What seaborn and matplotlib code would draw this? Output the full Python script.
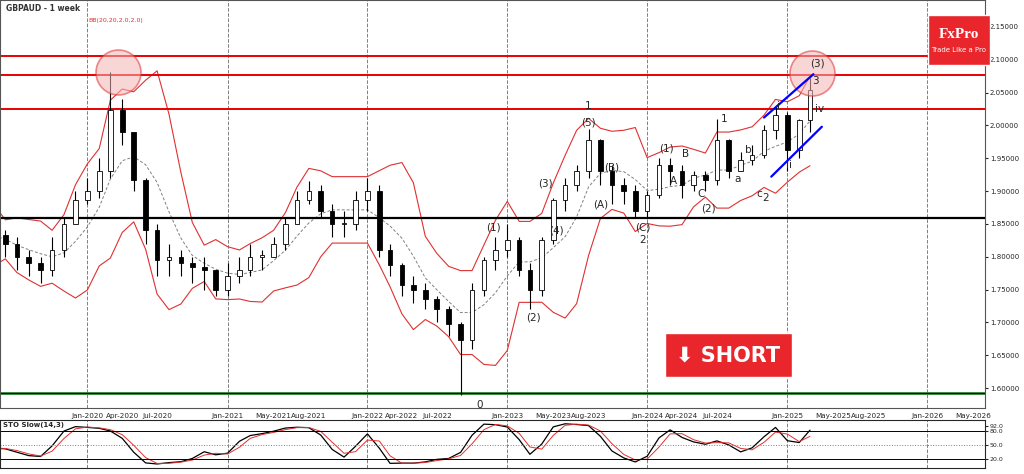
import matplotlib
matplotlib.use("Agg")
import matplotlib.pyplot as plt
import matplotlib.dates as mdates
from matplotlib.patches import Rectangle
import numpy as np
import pandas as pd
import seaborn as sns

sns.set_style("white")
plt.rcParams["font.family"] = ["DejaVu Sans"]

# monthly GBPAUD values (May 2019 .. Mar 2025)
months = pd.date_range("2019-05-01", "2025-03-01", freq="MS")
closes = [1.833, 1.82, 1.80, 1.79, 1.78, 1.81, 1.85, 1.887, 1.90, 1.93, 2.024, 1.99,
          1.917, 1.84, 1.795, 1.80, 1.79, 1.785, 1.78, 1.75, 1.77, 1.78, 1.80, 1.80,
          1.82, 1.85, 1.887, 1.90, 1.87, 1.85, 1.85, 1.887, 1.90, 1.81, 1.787, 1.757,
          1.75, 1.735, 1.72, 1.697, 1.673, 1.75, 1.795, 1.81, 1.826, 1.78, 1.75, 1.826,
          1.887, 1.91, 1.93, 1.978, 1.93, 1.91, 1.90, 1.87, 1.894, 1.94, 1.93, 1.91,
          1.925, 1.917, 1.978, 1.93, 1.947, 1.955, 1.993, 2.016, 1.963, 2.008, 2.054]
highs = [1.85, 1.84, 1.83, 1.81, 1.80, 1.83, 1.86, 1.90, 1.92, 1.95, 2.082, 2.04,
         1.99, 1.92, 1.85, 1.82, 1.81, 1.80, 1.80, 1.78, 1.79, 1.80, 1.82, 1.81,
         1.83, 1.86, 1.90, 1.915, 1.91, 1.88, 1.87, 1.90, 1.92, 1.91, 1.82, 1.79,
         1.77, 1.76, 1.74, 1.725, 1.70, 1.76, 1.80, 1.83, 1.85, 1.83, 1.79, 1.83,
         1.89, 1.92, 1.94, 1.995, 1.98, 1.94, 1.92, 1.91, 1.90, 1.95, 1.95, 1.94,
         1.93, 1.93, 2.01, 1.98, 1.96, 1.97, 2.00, 2.03, 2.02, 2.01, 2.072]
lows = [1.82, 1.80, 1.78, 1.77, 1.76, 1.77, 1.80, 1.85, 1.88, 1.89, 1.92, 1.97,
        1.90, 1.82, 1.77, 1.77, 1.77, 1.76, 1.75, 1.74, 1.74, 1.76, 1.77, 1.78,
        1.80, 1.81, 1.85, 1.88, 1.86, 1.83, 1.83, 1.84, 1.87, 1.80, 1.77, 1.74,
        1.73, 1.72, 1.70, 1.68, 1.59, 1.66, 1.74, 1.78, 1.80, 1.77, 1.72, 1.74,
        1.82, 1.87, 1.90, 1.92, 1.91, 1.88, 1.88, 1.86, 1.86, 1.89, 1.91, 1.89,
        1.90, 1.90, 1.91, 1.92, 1.93, 1.94, 1.95, 1.98, 1.93, 1.95, 1.99]

red_levels = [2.105, 2.077, 2.025]
support_level = 1.859
bottom_level = 1.592
price_ticks = [1.60, 1.65, 1.70, 1.75, 1.80, 1.85, 1.90, 1.95, 2.00, 2.05, 2.10, 2.15]
date_ticks = ["2020-01", "2020-04", "2020-07", "2021-01", "2021-05", "2021-08",
              "2022-01", "2022-04", "2022-07", "2023-01", "2023-05", "2023-08",
              "2024-01", "2024-04", "2024-07", "2025-01", "2025-05", "2025-08",
              "2026-01", "2026-05"]

df = pd.DataFrame({"date": months, "close": closes, "high": highs, "low": lows})
df["open"] = df["close"].shift(1).fillna(df["close"].iloc[0])
df["mid"] = df["close"].rolling(5, min_periods=1).mean()
sd = df["close"].rolling(5, min_periods=1).std().fillna(0.02)
df["up"] = df["mid"] + 1.6 * sd + 0.015
df["dn"] = df["mid"] - 1.6 * sd - 0.015
hh = df["high"].rolling(4, min_periods=1).max()
ll = df["low"].rolling(4, min_periods=1).min()
df["k"] = (100 * (df["close"] - ll) / (hh - ll)).rolling(2, min_periods=1).mean()
df["d"] = df["k"].rolling(2, min_periods=1).mean()
df["x"] = mdates.date2num(df["date"])

fig = plt.figure(figsize=(10.24, 4.74), dpi=100)
ax = fig.add_axes([0.0, 0.139, 0.962, 0.861])
ax2 = fig.add_axes([0.0, 0.013, 0.962, 0.101])

x0 = mdates.date2num(pd.Timestamp("2019-05-18"))
x1 = mdates.date2num(pd.Timestamp("2026-06-01"))

# candles
w = 12
for _, r in df.iterrows():
    ax.vlines(r["x"], r["low"], r["high"], color="black", lw=0.8, zorder=3)
    lo, hi = sorted([r["open"], r["close"]])
    col = "white" if r["close"] >= r["open"] else "black"
    ax.add_patch(Rectangle((r["x"] - w / 2, lo), w, max(hi - lo, 0.002),
                           facecolor=col, edgecolor="black", lw=0.6, zorder=4))

sns.lineplot(data=df, x="x", y="up", ax=ax, color="#e03030", lw=0.8)
sns.lineplot(data=df, x="x", y="dn", ax=ax, color="#e03030", lw=0.8)
sns.lineplot(data=df, x="x", y="mid", ax=ax, color="gray", lw=0.7, linestyle=(0, (3, 2)))

for lv in red_levels:
    ax.axhline(lv, color="#e80000", lw=1.4, zorder=2)
ax.axhline(support_level, color="black", lw=1.6)
ax.axhline(bottom_level, color="#2e7d32", lw=2)
ax.axhline(bottom_level, color="black", lw=0.6)

yrs = [mdates.date2num(pd.Timestamp(f"{y}-01-01")) for y in range(2020, 2027)]
for xv in yrs:
    ax.axvline(xv, color="gray", lw=0.7, ls="--", zorder=1)
    ax2.axvline(xv, color="gray", lw=0.7, ls="--", zorder=1)

ax.set_xlim(x0, x1)
ax.set_ylim(1.5695, 2.191)
ax.yaxis.tick_right()
ax.set_yticks(price_ticks)
ax.set_yticklabels([f"{t:.5f}" for t in price_ticks], fontsize=5)
ax.set_xticks([mdates.date2num(pd.Timestamp(d)) for d in date_ticks])
ax.set_xticklabels([pd.Timestamp(d).strftime("%b-%Y") for d in date_ticks], fontsize=5.2)
ax.tick_params(length=2, pad=1.5)
ax.set_xlabel("")
ax.set_ylabel("")
for s in ax.spines.values():
    s.set_color("#555555")

d = lambda s: mdates.date2num(pd.Timestamp(s))

# circles at highs
ax.scatter([d("2020-03-20"), d("2025-03-05")], [2.082, 2.08], s=1050, facecolor="#f5b5b5",
           alpha=0.55, edgecolor="#e03030", linewidth=1.2, zorder=5)

# blue channel
ax.plot([d("2024-11-01"), d("2025-03-10")], [2.012, 2.078], color="blue", lw=1.6, zorder=6)
ax.plot([d("2024-11-20"), d("2025-04-01")], [1.922, 1.998], color="blue", lw=1.6, zorder=6)

labels = [("(3)", "2025-03-20", 2.095), ("3", "2025-03-15", 2.068), ("i", "2024-12-10", 2.03),
          ("iv", "2025-03-25", 2.025), ("(5)", "2023-08-01", 2.005), ("1", "2023-08-01", 2.03),
          ("(B)", "2023-10-01", 1.936), ("(A)", "2023-09-01", 1.88), ("(C)", "2023-12-20", 1.845),
          ("2", "2023-12-20", 1.825), ("(1)", "2024-02-20", 1.965), ("B", "2024-04-10", 1.957),
          ("A", "2024-03-10", 1.915), ("C", "2024-05-20", 1.895), ("(2)", "2024-06-10", 1.873),
          ("1", "2024-07-20", 2.01), ("b", "2024-09-20", 1.963), ("a", "2024-08-25", 1.918),
          ("c", "2024-10-20", 1.895), ("2", "2024-11-05", 1.89), ("ii", "2025-01-05", 1.94),
          ("(3)", "2023-04-10", 1.912), ("(4)", "2023-05-10", 1.84), ("(1)", "2022-11-25", 1.845),
          ("(2)", "2023-03-10", 1.707), ("0", "2022-10-20", 1.575)]
for txt, dt, y in labels:
    ax.text(d(dt), y, txt, fontsize=7.5, ha="center", va="center", zorder=7)

ax.text(0.006, 0.99, "GBPAUD - 1 week", transform=ax.transAxes, fontsize=5.5, fontweight="bold",
        va="top", color="#333333")
ax.text(0.09, 0.955, "BB(20,20,2.0,2.0)", transform=ax.transAxes, fontsize=4.5, va="top", color="#e03030")

# SHORT box
fig.patches.append(Rectangle((665 / 1024, 1 - 377 / 474), 127 / 1024, 44 / 474,
                             transform=fig.transFigure, facecolor="#e8262b", zorder=10))
fig.text(728 / 1024, 1 - 355 / 474, "\u2b07 SHORT", color="white", fontsize=15,
         fontweight="bold", ha="center", va="center", zorder=11, family=["DejaVu Sans"])
# logo box
fig.patches.append(Rectangle((928 / 1024, 1 - 65 / 474), 62 / 1024, 50 / 474,
                             transform=fig.transFigure, facecolor="#e8262b", zorder=10))
fig.text(959 / 1024, 1 - 34 / 474, "FxPro", color="white", fontsize=11, fontweight="bold",
         ha="center", va="center", zorder=11, family="Liberation Serif")
fig.text(959 / 1024, 1 - 50 / 474, "Trade Like a Pro", color="white", fontsize=5,
         ha="center", va="center", zorder=11)

# stochastic panel
sns.lineplot(data=df, x="x", y="k", ax=ax2, color="black", lw=0.9)
sns.lineplot(data=df, x="x", y="d", ax=ax2, color="#e03030", lw=0.7)
for lv in (80, 20):
    ax2.axhline(lv, color="black", lw=0.7)
ax2.axhline(50, color="gray", lw=0.7, ls=":")
ax2.set_xlim(x0, x1)
ax2.set_ylim(0, 105)
ax2.yaxis.tick_right()
ax2.set_yticks([20, 50, 80, 92])
ax2.set_yticklabels(["20.0", "50.0", "80.0", "92.0"], fontsize=4.5)
ax2.set_xticks([])
ax2.set_xlabel("")
ax2.set_ylabel("")
ax2.tick_params(length=2, pad=1)
ax2.text(0.003, 0.95, "STO Slow(14,3)", transform=ax2.transAxes, fontsize=5, fontweight="bold", va="top")

fig.savefig("out.png", dpi=100)
